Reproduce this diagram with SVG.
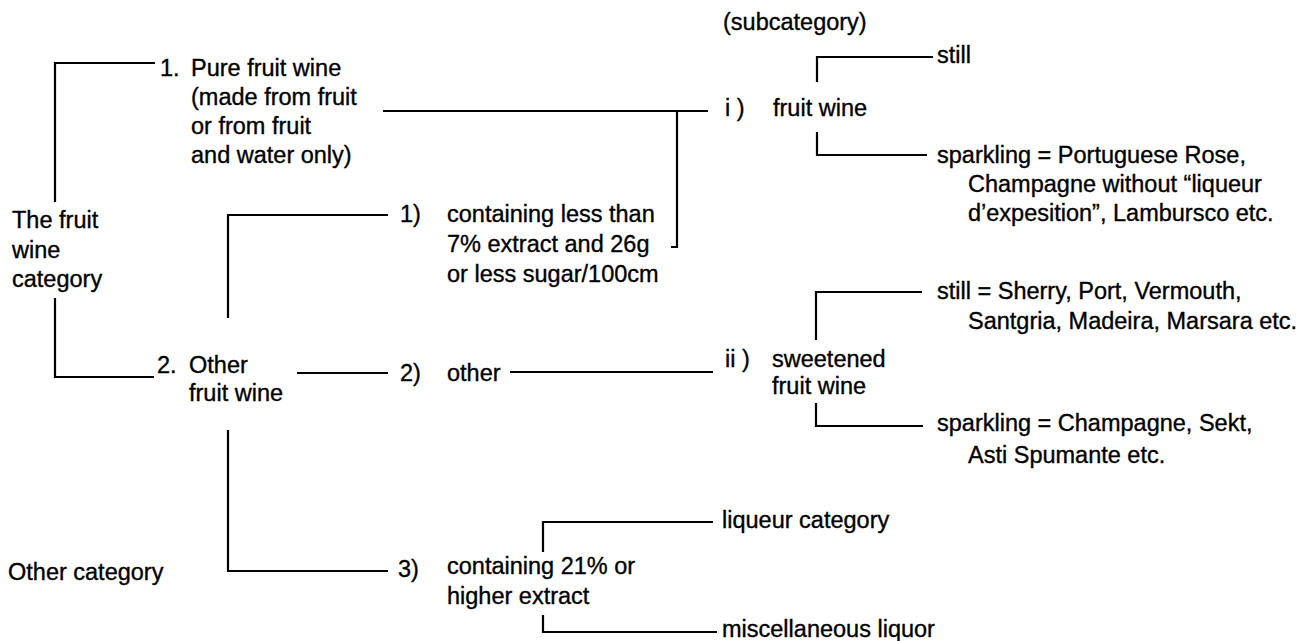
<svg xmlns="http://www.w3.org/2000/svg" width="1311" height="641" viewBox="0 0 1311 641">
<style>
text{font-family:"Liberation Sans",Arial,sans-serif;font-size:23.5px;fill:#000;stroke:#000;stroke-width:0.35}
.c{fill:none;stroke:#000;stroke-width:2.2}
</style>
<rect width="1311" height="641" fill="#fff"/>
<g id="connectors">
<path class="c" d="M155,63 H55 V202"/>
<path class="c" d="M55,298 V377 H154"/>
<path class="c" d="M388,215 H228 V318"/>
<path class="c" d="M228,430 V571 H388"/>
<path class="c" d="M297,373 H388"/>
<path class="c" d="M383,111 H708"/>
<path class="c" d="M677,111 V247 H671"/>
<path class="c" d="M510,372 H713"/>
<path class="c" d="M933,57 H817 V82"/>
<path class="c" d="M817,132 V155 H927"/>
<path class="c" d="M922,292 H816 V340"/>
<path class="c" d="M816,403 V426 H923"/>
<path class="c" d="M713,522 H543 V552"/>
<path class="c" d="M543,615 V632 H717"/>
</g>
<g id="subcategory-label"><text x="723" y="30">(subcategory)</text></g>
<g id="fruit-wine-category"><text x="12" y="228">The fruit</text><text x="12" y="258">wine</text><text x="12" y="287">category</text></g>
<g id="other-category"><text x="8" y="580">Other category</text></g>
<g id="pure-fruit-wine"><text x="160" y="76">1.</text><text x="191" y="76">Pure fruit wine</text><text x="191" y="105">(made from fruit</text><text x="191" y="134">or from fruit</text><text x="191" y="163">and water only)</text></g>
<g id="other-fruit-wine"><text x="157" y="373">2.</text><text x="189" y="373">Other</text><text x="189" y="401">fruit wine</text></g>
<g id="less-than-7"><text x="400" y="222">1)</text><text x="447" y="222">containing less than</text><text x="447" y="252">7% extract and 26g</text><text x="447" y="282">or less sugar/100cm</text></g>
<g id="other"><text x="400" y="381">2)</text><text x="447" y="381">other</text></g>
<g id="over-21"><text x="398" y="577">3)</text><text x="447" y="574">containing 21% or</text><text x="447" y="604">higher extract</text></g>
<g id="fruit-wine"><text x="725" y="116">i )</text><text x="773" y="116">fruit wine</text></g>
<g id="sweetened-fruit-wine"><text x="725" y="367">ii )</text><text x="772" y="367">sweetened</text><text x="772" y="394">fruit wine</text></g>
<g id="still-1"><text x="937" y="63">still</text></g>
<g id="sparkling-1"><text x="937" y="163">sparkling = Portuguese Rose,</text><text x="968" y="192">Champagne without “liqueur</text><text x="968" y="221">d’expesition”, Lambursco etc.</text></g>
<g id="still-2"><text x="937" y="299">still = Sherry, Port, Vermouth,</text><text x="968" y="329">Santgria, Madeira, Marsara etc.</text></g>
<g id="sparkling-2"><text x="937" y="431">sparkling = Champagne, Sekt,</text><text x="968" y="463">Asti Spumante etc.</text></g>
<g id="liqueur-category"><text x="722" y="528">liqueur category</text></g>
<g id="misc-liquor"><text x="722" y="637">miscellaneous liquor</text></g>
</svg>
